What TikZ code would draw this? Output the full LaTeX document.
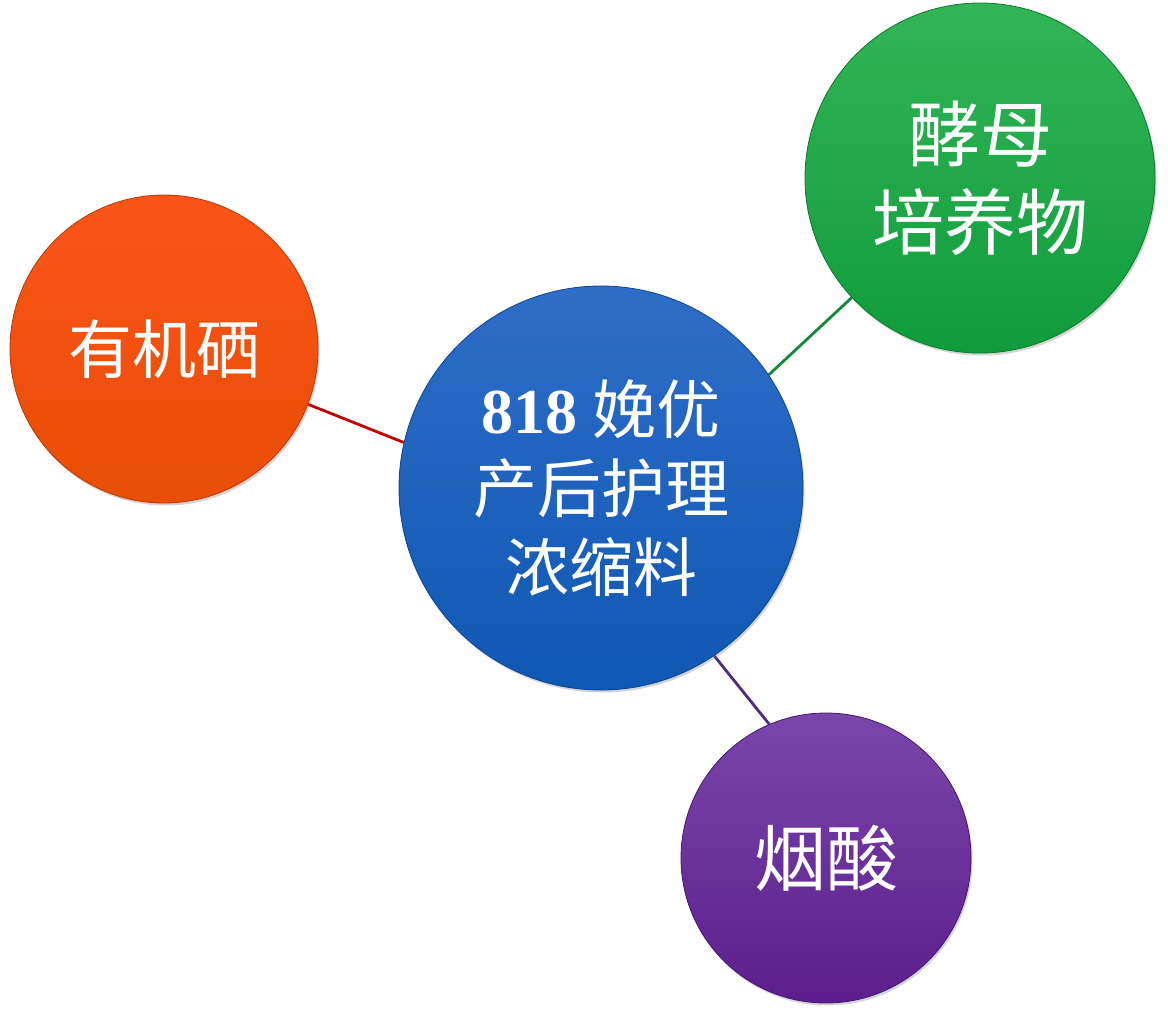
\documentclass[tikz,border=0pt]{standalone}
\usepackage{fontspec}
\newfontfamily\cjk{Noto Sans CJK SC}
\newfontfamily\numfont{Liberation Serif}
\usetikzlibrary{shadows,backgrounds}
\definecolor{orT}{HTML}{FC5418}
\definecolor{orB}{HTML}{E84E06}
\definecolor{orD}{HTML}{B83A08}
\definecolor{blT}{HTML}{2E6DC8}
\definecolor{blB}{HTML}{0F58B2}
\definecolor{blD}{HTML}{0C4590}
\definecolor{grT}{HTML}{32B556}
\definecolor{grB}{HTML}{109C3C}
\definecolor{grD}{HTML}{0B7A2E}
\definecolor{puT}{HTML}{7A46AA}
\definecolor{puB}{HTML}{5C1E8C}
\definecolor{puD}{HTML}{481670}
\definecolor{lnR}{HTML}{C00000}
\definecolor{lnG}{HTML}{118A3A}
\definecolor{lnP}{HTML}{4E2A80}
\tikzset{
  ball/.style={circle, inner sep=0pt, align=center, text=white,
    font=\cjk, line width=0.8pt,
    drop shadow={shadow xshift=1.5pt, shadow yshift=-2.5pt, opacity=0.35}},
  link/.style={line width=2.8pt}
}
\begin{document}
\begin{tikzpicture}[x=1pt,y=-1pt]
\useasboundingbox (0,0) rectangle (1168,1015);
\node[ball, minimum size=404pt, top color=blT, bottom color=blB, draw=blD,
  font=\cjk\fontsize{64}{79}\selectfont] (ctr) at (601,488)
  {{\numfont\bfseries 818} 娩优\\产后护理\\浓缩料};
\node[ball, minimum size=308pt, top color=orT, bottom color=orB, draw=orD,
  font=\cjk\fontsize{64}{79}\selectfont] (se) at (164,349) {有机硒};
\node[ball, minimum size=350pt, top color=grT, bottom color=grB, draw=grD,
  font=\cjk\fontsize{72}{88}\selectfont] (yeast) at (980,178) {酵母\\培养物};
\node[ball, minimum size=290pt, top color=puT, bottom color=puB, draw=puD,
  font=\cjk\fontsize{72}{88}\selectfont] (nia) at (826,858) {烟酸};
\begin{scope}[on background layer]
\draw[link, lnR] (se.-21.7) -- (ctr.167);
\draw[link, lnG] (ctr.34.8) -- (yeast.223.8);
\draw[link, lnP] (ctr.-56.5) -- (nia.113.9);
\end{scope}
\end{tikzpicture}
\end{document}
